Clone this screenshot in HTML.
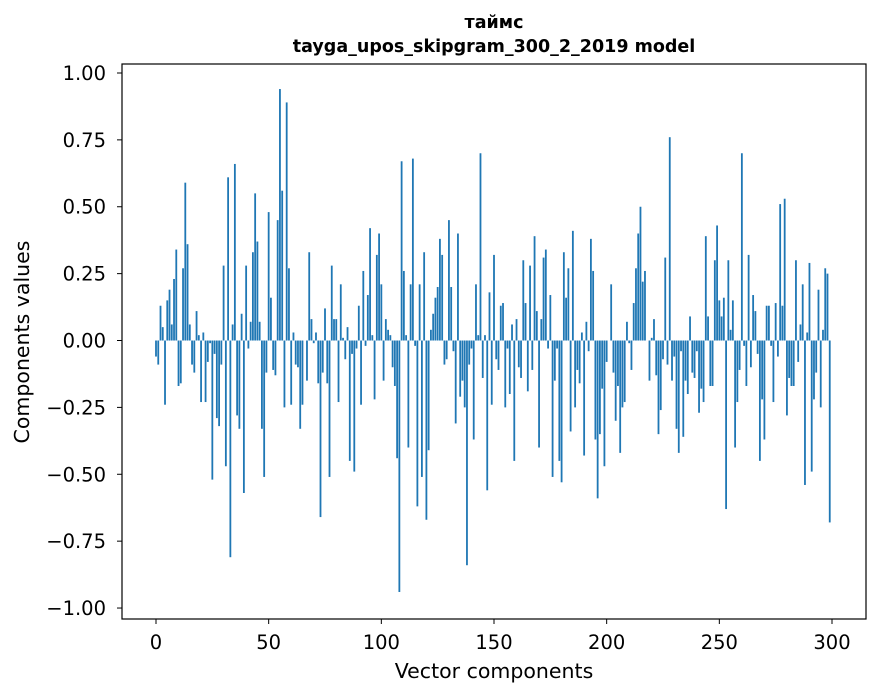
<!DOCTYPE html>
<html><head><meta charset="utf-8"><style>
html,body{margin:0;padding:0;background:#fff;}
svg{display:block;font-family:"DejaVu Sans","Liberation Sans",sans-serif;}
</style></head><body>
<svg id="chart" width="880" height="696">
<text x="494" y="28" text-anchor="middle" font-size="17.5" font-weight="bold">таймс</text>
<text x="494" y="52" text-anchor="middle" font-size="17.5" font-weight="bold">tayga_upos_skipgram_300_2_2019 model</text>
<g id="bars"></g>
<g id="axes"></g>
<rect x="122" y="64" width="744" height="555" fill="none" stroke="#000" stroke-width="1.2"/>
<text x="494" y="678" text-anchor="middle" font-size="20.5">Vector components</text>
<text transform="translate(29,342) rotate(-90)" text-anchor="middle" font-size="20.5">Components values</text>
</svg>
<script>
const values = [
-0.06,-0.09,0.13,0.05,-0.24,0.15,0.19,0.06,0.23,0.34,
-0.17,-0.16,0.27,0.59,0.36,0.06,-0.09,-0.12,0.11,0.02,
-0.23,0.03,-0.23,-0.08,-0.01,-0.52,-0.05,-0.29,-0.32,-0.09,
0.28,-0.47,0.61,-0.81,0.06,0.66,-0.28,-0.33,0.10,-0.57,
0.28,-0.03,0.07,0.33,0.55,0.37,0.07,-0.33,-0.51,-0.12,
0.48,0.16,-0.11,-0.13,0.45,0.94,0.56,-0.25,0.89,0.27,
-0.24,0.03,-0.09,-0.10,-0.33,-0.24,0.00,-0.15,0.33,0.08,
-0.01,0.03,-0.16,-0.66,-0.12,0.12,-0.16,-0.51,0.28,0.08,
0.08,-0.23,0.21,0.01,-0.07,0.05,-0.45,-0.05,-0.49,-0.03,
0.13,-0.24,0.26,-0.02,0.17,0.42,0.02,-0.22,0.32,0.40,
0.21,-0.15,0.08,0.04,0.02,-0.10,-0.17,-0.44,-0.94,0.67,
0.26,0.02,-0.40,0.21,0.68,-0.02,-0.62,0.21,-0.51,0.33,
-0.67,-0.41,0.04,0.10,0.16,0.20,0.38,0.32,-0.09,-0.07,
0.45,0.20,-0.04,-0.31,0.40,-0.21,-0.15,-0.25,-0.84,-0.09,
-0.03,-0.37,0.21,0.02,0.70,-0.14,0.02,-0.56,0.18,-0.24,
0.32,-0.07,-0.11,0.13,0.14,-0.25,-0.03,-0.20,0.06,-0.45,
0.08,-0.10,-0.14,0.30,0.14,-0.19,0.28,-0.11,0.39,0.11,
-0.40,0.08,0.31,0.34,-0.03,0.17,-0.51,-0.15,-0.03,-0.45,
-0.53,0.33,0.16,0.27,-0.34,0.41,-0.25,-0.11,-0.16,0.03,
-0.43,0.07,-0.04,0.38,0.26,-0.37,-0.59,-0.35,-0.18,-0.47,
-0.08,0.00,0.21,-0.12,-0.30,-0.17,-0.42,-0.25,-0.23,0.07,
-0.01,-0.11,0.14,0.27,0.40,0.50,0.22,0.26,0.00,-0.15,
0.01,0.08,-0.13,-0.35,-0.26,-0.07,0.31,-0.09,0.76,-0.15,
-0.06,-0.33,-0.42,-0.04,-0.36,-0.15,-0.20,0.09,-0.12,-0.14,
-0.04,-0.27,-0.18,-0.23,0.39,0.09,-0.17,-0.17,0.30,0.43,
0.15,0.09,0.16,-0.63,0.30,0.04,0.15,-0.40,-0.23,-0.11,
0.70,-0.02,-0.17,0.32,-0.10,0.17,0.11,-0.05,-0.45,-0.22,
-0.37,0.13,0.13,-0.02,-0.23,0.14,-0.06,0.51,0.13,0.53,
-0.28,-0.14,-0.17,-0.17,0.30,-0.08,0.06,0.21,-0.54,0.03,
0.29,-0.49,-0.22,-0.12,0.19,-0.25,0.04,0.27,0.25,-0.68
];
const xTicks = [0,50,100,150,200,250,300];
const yTicks = [-1.00,-0.75,-0.50,-0.25,0.00,0.25,0.50,0.75,1.00];
const yTickLabels = ["\u22121.00","\u22120.75","\u22120.50","\u22120.25","0.00","0.25","0.50","0.75","1.00"];

const NS = "http://www.w3.org/2000/svg";
const L=122,R=866,T=64,B=619;
const xMin=-15.09,xMax=315.09,yMin=-1.041,yMax=1.0336;
function xs(v){return L+(v-xMin)/(xMax-xMin)*(R-L);}
function ys(v){return B-(v-yMin)/(yMax-yMin)*(B-T);}
const barsG=document.getElementById('bars');
values.forEach((v,i)=>{
  const r=document.createElementNS(NS,'rect');
  const x0=xs(i-0.4),x1=xs(i+0.4);
  const y0=ys(Math.max(v,0)),y1=ys(Math.min(v,0));
  r.setAttribute('x',x0);r.setAttribute('width',x1-x0);
  r.setAttribute('y',y0);r.setAttribute('height',Math.max(y1-y0,0.01));
  r.setAttribute('fill','#1f77b4');
  
  
  barsG.appendChild(r);
});
const axesG=document.getElementById('axes');
xTicks.forEach(t=>{
  const x=xs(t);
  const ln=document.createElementNS(NS,'line');
  ln.setAttribute('x1',x);ln.setAttribute('x2',x);ln.setAttribute('y1',B);ln.setAttribute('y2',B+5);
  ln.setAttribute('stroke','#000');
  
  
  axesG.appendChild(ln);
  const tx=document.createElementNS(NS,'text');
  tx.setAttribute('x',x);tx.setAttribute('y',649);tx.setAttribute('text-anchor','middle');tx.setAttribute('font-size','19.5');
  tx.textContent=String(t);
  
  
  axesG.appendChild(tx);
});
yTicks.forEach((t,i)=>{
  const y=ys(t);
  const ln=document.createElementNS(NS,'line');
  ln.setAttribute('x1',L-5);ln.setAttribute('x2',L);ln.setAttribute('y1',y);ln.setAttribute('y2',y);
  ln.setAttribute('stroke','#000');
  
  
  axesG.appendChild(ln);
  const tx=document.createElementNS(NS,'text');
  tx.setAttribute('x',L-16);tx.setAttribute('y',y+7);tx.setAttribute('text-anchor','end');tx.setAttribute('font-size','19.5');
  tx.textContent=yTickLabels[i];
  
  
  axesG.appendChild(tx);
});
</script>
</body></html>
